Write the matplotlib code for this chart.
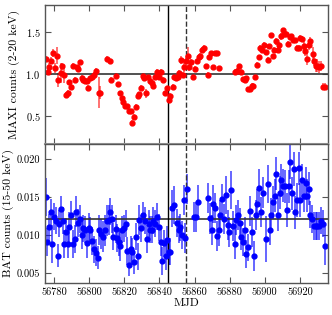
import numpy as np
import matplotlib
matplotlib.use("Agg")
import matplotlib.pyplot as plt

plt.rcParams['font.family'] = 'serif'
plt.rcParams['font.serif'] = ['cmr10', 'DejaVu Serif']
plt.rcParams['axes.formatter.use_mathtext'] = True
plt.rcParams['mathtext.fontset'] = 'cm'

# MAXI (2-20 keV), normalizado
maxi_t = [56775.3, 56776.4, 56777.2, 56778.1, 56779.3, 56780.6, 56781.5, 56782.5, 56783.8, 56784.7,
          56785.7, 56786.8, 56788.0, 56788.7, 56789.7, 56790.6, 56791.8, 56792.9, 56793.8, 56794.8,
          56795.8, 56796.7, 56797.8, 56799.0, 56799.5, 56800.7, 56801.8, 56802.9, 56803.9, 56805.6,
          56806.2, 56810.3, 56811.7, 56812.6, 56815.5, 56816.4, 56817.6, 56818.7, 56819.4, 56820.6,
          56821.5, 56822.7, 56823.6, 56824.4, 56825.5, 56826.5, 56827.6, 56828.6, 56829.5, 56830.5,
          56831.4, 56832.5, 56833.3, 56834.5, 56835.6, 56836.5, 56837.7, 56838.8, 56839.8, 56841.1,
          56842.2, 56843.3, 56844.3, 56845.3, 56846.2, 56847.6, 56848.5, 56849.4, 56850.4, 56851.3,
          56852.3, 56853.2, 56854.2, 56855.1, 56856.1, 56857.0, 56858.2, 56859.3, 56860.4, 56861.4,
          56862.4, 56863.3, 56864.2, 56865.2, 56866.5, 56867.5, 56868.4, 56869.5, 56870.7, 56871.8,
          56872.8, 56873.7, 56883.2, 56884.0, 56885.5, 56886.4, 56887.4, 56888.5, 56889.5, 56890.4,
          56891.5, 56892.5, 56893.4, 56894.5, 56895.4, 56896.5, 56897.4, 56898.4, 56899.5, 56900.7,
          56901.6, 56902.6, 56903.5, 56904.4, 56905.4, 56906.4, 56907.3, 56908.3, 56909.2, 56910.2,
          56911.1, 56912.3, 56913.2, 56914.1, 56915.1, 56916.2, 56917.3, 56918.3, 56919.2, 56920.2,
          56921.1, 56922.1, 56923.1, 56924.0, 56925.0, 56925.9, 56927.2, 56928.2, 56929.1, 56930.0,
          56931.0, 56932.0, 56933.3, 56934.2]
maxi_c = [1.18, 1.03, 1.08, 1.16, 1.25, 1.07, 1.22, 0.93, 1.01, 1.09,
          0.99, 0.75, 0.77, 0.90, 0.85, 1.10, 0.93, 1.08, 1.06, 1.14,
          0.95, 0.93, 0.92, 0.92, 0.84, 0.95, 0.97, 0.99, 1.04, 0.78,
          0.78, 1.18, 1.15, 0.93, 0.98, 0.88, 0.77, 0.71, 0.67, 0.62,
          0.62, 0.56, 0.56, 0.42, 0.49, 0.61, 0.74, 0.76, 0.84, 0.98,
          0.95, 0.77, 0.96, 0.92, 0.89, 0.86, 0.96, 1.03, 0.96, 1.03,
          0.93, 0.77, 0.83, 0.69, 0.74, 0.85, 0.97, 0.95, 0.96, 1.01,
          1.17, 0.99, 1.08, 1.16, 1.22, 1.08, 1.14, 0.97, 1.06, 1.15,
          1.20, 1.22, 1.29, 1.31, 1.09, 0.99, 1.20, 1.25, 1.08, 1.25,
          1.25, 1.07, 1.03, 1.04, 1.09, 1.03, 0.94, 0.93, 0.95, 0.82,
          0.82, 0.86, 0.86, 0.96, 1.11, 1.20, 1.31, 1.29, 1.35, 1.26,
          1.17, 1.33, 1.46, 1.21, 1.29, 1.39, 1.29, 1.35, 1.45, 1.52,
          1.48, 1.48, 1.36, 1.44, 1.45, 1.40, 1.40, 1.31, 1.31, 1.43,
          1.42, 1.33, 1.27, 1.18, 1.35, 1.39, 1.24, 1.16, 1.10, 1.10,
          1.08, 1.10, 0.85, 0.85]
maxi_e = [0.04, 0.03, 0.05, 0.04, 0.05, 0.06, 0.10, 0.08, 0.12, 0.04,
          0.10, 0.04, 0.04, 0.03, 0.03, 0.03, 0.03, 0.03, 0.03, 0.03,
          0.04, 0.03, 0.03, 0.03, 0.03, 0.03, 0.03, 0.03, 0.03, 0.18,
          0.08, 0.04, 0.03, 0.03, 0.03, 0.03, 0.03, 0.03, 0.03, 0.03,
          0.03, 0.03, 0.03, 0.03, 0.03, 0.03, 0.03, 0.03, 0.03, 0.03,
          0.03, 0.05, 0.03, 0.03, 0.03, 0.03, 0.03, 0.03, 0.03, 0.03,
          0.03, 0.03, 0.03, 0.03, 0.03, 0.03, 0.03, 0.03, 0.03, 0.04,
          0.05, 0.04, 0.05, 0.05, 0.10, 0.04, 0.04, 0.03, 0.03, 0.03,
          0.03, 0.03, 0.03, 0.03, 0.03, 0.03, 0.03, 0.03, 0.03, 0.03,
          0.03, 0.03, 0.03, 0.03, 0.03, 0.03, 0.03, 0.03, 0.03, 0.03,
          0.03, 0.03, 0.03, 0.03, 0.03, 0.03, 0.03, 0.03, 0.03, 0.03,
          0.03, 0.03, 0.03, 0.03, 0.03, 0.04, 0.03, 0.03, 0.04, 0.03,
          0.03, 0.03, 0.03, 0.03, 0.03, 0.03, 0.03, 0.03, 0.03, 0.03,
          0.03, 0.05, 0.06, 0.07, 0.06, 0.05, 0.08, 0.07, 0.08, 0.08,
          0.07, 0.06, 0.04, 0.04]

# BAT (15-50 keV)
bat_t = [56775.3, 56776.2, 56777.2, 56778.1, 56779.0, 56780.0, 56781.0, 56782.1, 56783.0, 56784.0,
         56785.0, 56785.9, 56786.8, 56787.8, 56788.6, 56789.7, 56790.6, 56791.8, 56792.7, 56793.6,
         56794.6, 56795.9, 56796.7, 56797.7, 56798.6, 56799.8, 56800.7, 56801.8, 56802.8, 56803.9,
         56804.8, 56805.8, 56806.7, 56807.6, 56808.9, 56809.9, 56811.0, 56811.9, 56812.8, 56813.8,
         56815.0, 56815.8, 56816.8, 56817.7, 56818.9, 56819.9, 56820.8, 56821.7, 56822.7, 56823.6,
         56824.6, 56825.6, 56826.7, 56827.7, 56828.6, 56829.6, 56830.7, 56831.7, 56832.8, 56833.8,
         56834.7, 56835.6, 56836.5, 56837.7, 56838.6, 56839.6, 56840.8, 56841.7, 56842.7, 56843.6,
         56844.3, 56845.3, 56846.2, 56847.2, 56848.2, 56850.0, 56851.0, 56851.9, 56852.8, 56853.8,
         56854.8, 56855.7, 56859.9, 56860.8, 56861.8, 56867.8, 56868.8, 56869.7, 56870.7, 56871.8,
         56872.8, 56873.7, 56874.7, 56875.6, 56876.9, 56877.9, 56878.8, 56879.8, 56880.7, 56881.7,
         56882.8, 56883.8, 56884.8, 56885.7, 56886.6, 56887.6, 56888.5, 56889.5, 56890.4, 56891.7,
         56892.7, 56893.8, 56894.9, 56895.8, 56896.8, 56897.9, 56898.8, 56900.5, 56901.7, 56902.8,
         56903.7, 56904.8, 56905.6, 56906.5, 56907.4, 56908.4, 56909.5, 56910.5, 56911.4, 56912.5,
         56913.5, 56914.5, 56915.4, 56916.4, 56917.3, 56918.5, 56919.4, 56920.3, 56921.3, 56922.3,
         56923.2, 56924.1, 56925.1, 56926.0, 56927.0, 56928.0, 56928.9, 56929.9, 56930.8, 56932.0,
         56932.9, 56934.0]
bat_c = [0.0150, 0.0091, 0.0110, 0.0130, 0.0088, 0.0124, 0.0119, 0.0073, 0.0115, 0.0134,
         0.0119, 0.0088, 0.0104, 0.0088, 0.0110, 0.0127, 0.0088, 0.0095, 0.0131, 0.0116,
         0.0121, 0.0100, 0.0109, 0.0107, 0.0090, 0.0109, 0.0106, 0.0092, 0.0081, 0.0077,
         0.0070, 0.0107, 0.0101, 0.0098, 0.0106, 0.0119, 0.0120, 0.0131, 0.0121, 0.0098,
         0.0108, 0.0096, 0.0091, 0.0086, 0.0107, 0.0109, 0.0115, 0.0079, 0.0061, 0.0081,
         0.0078, 0.0064, 0.0098, 0.0072, 0.0120, 0.0109, 0.0126, 0.0119, 0.0095, 0.0115,
         0.0107, 0.0107, 0.0119, 0.0115, 0.0124, 0.0110, 0.0091, 0.0066, 0.0089, 0.0072,
         0.0094, 0.0078, 0.0078, 0.0135, 0.0139, 0.0116, 0.0107, 0.0110, 0.0100, 0.0146,
         0.0096, 0.0161, 0.0124, 0.0124, 0.0144, 0.0149, 0.0122, 0.0107, 0.0141, 0.0136,
         0.0099, 0.0106, 0.0126, 0.0147, 0.0121, 0.0153, 0.0113, 0.0104, 0.0159, 0.0112,
         0.0088, 0.0120, 0.0126, 0.0116, 0.0098, 0.0091, 0.0106, 0.0075, 0.0084, 0.0132,
         0.0104, 0.0072, 0.0126, 0.0141, 0.0162, 0.0130, 0.0156, 0.0095, 0.0167, 0.0107,
         0.0127, 0.0143, 0.0152, 0.0181, 0.0127, 0.0156, 0.0172, 0.0165, 0.0164, 0.0133,
         0.0164, 0.0196, 0.0155, 0.0187, 0.0130, 0.0146, 0.0188, 0.0146, 0.0172, 0.0152,
         0.0168, 0.0152, 0.0161, 0.0127, 0.0121, 0.0112, 0.0112, 0.0112, 0.0112, 0.0119,
         0.0115, 0.0085]
bat_e = [0.0025, 0.0018, 0.0018, 0.0018, 0.0025, 0.0018, 0.0018, 0.0015, 0.0018, 0.0018,
         0.0018, 0.0018, 0.0018, 0.0018, 0.0020, 0.0018, 0.0018, 0.0018, 0.0020, 0.0018,
         0.0018, 0.0018, 0.0018, 0.0018, 0.0020, 0.0020, 0.0018, 0.0018, 0.0018, 0.0018,
         0.0015, 0.0020, 0.0020, 0.0020, 0.0020, 0.0020, 0.0020, 0.0018, 0.0018, 0.0018,
         0.0018, 0.0018, 0.0018, 0.0020, 0.0018, 0.0018, 0.0018, 0.0018, 0.0015, 0.0018,
         0.0018, 0.0015, 0.0018, 0.0018, 0.0020, 0.0018, 0.0018, 0.0018, 0.0018, 0.0018,
         0.0018, 0.0018, 0.0018, 0.0018, 0.0018, 0.0018, 0.0018, 0.0018, 0.0018, 0.0018,
         0.0018, 0.0018, 0.0018, 0.0025, 0.0025, 0.0018, 0.0018, 0.0018, 0.0018, 0.0020,
         0.0020, 0.0020, 0.0020, 0.0020, 0.0022, 0.0020, 0.0020, 0.0020, 0.0025, 0.0020,
         0.0020, 0.0020, 0.0020, 0.0020, 0.0020, 0.0025, 0.0020, 0.0020, 0.0025, 0.0020,
         0.0020, 0.0020, 0.0020, 0.0020, 0.0018, 0.0018, 0.0018, 0.0018, 0.0018, 0.0020,
         0.0020, 0.0020, 0.0020, 0.0020, 0.0025, 0.0020, 0.0020, 0.0030, 0.0025, 0.0020,
         0.0022, 0.0022, 0.0022, 0.0022, 0.0022, 0.0022, 0.0022, 0.0022, 0.0022, 0.0022,
         0.0022, 0.0022, 0.0022, 0.0022, 0.0022, 0.0022, 0.0022, 0.0022, 0.0022, 0.0022,
         0.0022, 0.0022, 0.0022, 0.0018, 0.0018, 0.0018, 0.0018, 0.0018, 0.0018, 0.0018,
         0.0018, 0.0025]

maxi_ref = 1.0
bat_ref = 0.0121
t_solida = 56845.0
t_punteada = 56855.2

fig, (ax1, ax2) = plt.subplots(2, 1, sharex=True, figsize=(3.32, 3.15), dpi=100)
fig.subplots_adjust(left=0.136, right=0.988, top=0.984, bottom=0.102, hspace=0)

# MAXI
ax1.errorbar(maxi_t, maxi_c, yerr=maxi_e, fmt='o', color='red', ms=3.5,
             ecolor=(1, 0, 0, 0.65), elinewidth=1.2, capsize=0)
ax1.axhline(maxi_ref, color='#333333', lw=1.2)
ax1.set_ylim(0.17, 1.82)
ax1.set_yticks([0.5, 1.0, 1.5])
ax1.set_ylabel("MAXI counts (2-20 keV)", fontsize=8.5)

# BAT
ax2.errorbar(bat_t, bat_c, yerr=bat_e, fmt='o', color='blue', ms=3.5,
             ecolor=(0, 0, 1, 0.7), elinewidth=1.2, capsize=0)
ax2.axhline(bat_ref, color='#333333', lw=1.2)
ax2.set_ylim(0.0037, 0.0220)
ax2.set_yticks([0.005, 0.010, 0.015, 0.020])
ax2.set_yticklabels(["0.005", "0.010", "0.015", "0.020"])
ax2.set_ylabel("BAT counts (15-50 keV)", fontsize=8.5, labelpad=2)
ax2.set_xlabel("MJD", fontsize=8.5, labelpad=1)

ax2.set_xlim(56774.9, 56936)
ax2.set_xticks(np.arange(56780, 56921, 20))
ax2.set_xticklabels([str(v) for v in range(56780, 56921, 20)])

for ax in (ax1, ax2):
    ax.axvline(t_solida, color='black', lw=1.0)
    ax.axvline(t_punteada, color='#333333', lw=1.0, ls='--')
    ax.tick_params(direction='in', top=True, right=True, labelsize=7.5, length=4, color='#555555')
    for s in ax.spines.values():
        s.set_color('#555555')
        s.set_linewidth(1.0)
ax1.spines['bottom'].set_color('#999999')
ax1.spines['bottom'].set_linewidth(1.5)

fig.savefig("out.png", dpi=100)
